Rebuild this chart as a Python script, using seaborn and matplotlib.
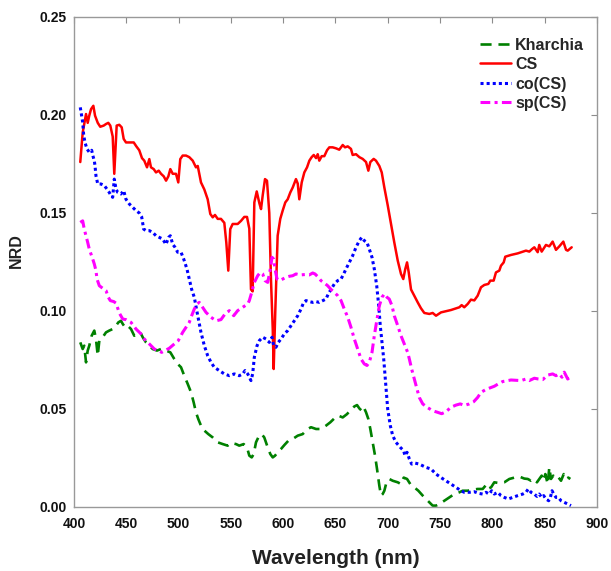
import numpy as np
import pandas as pd
import matplotlib
matplotlib.use("Agg")
import matplotlib.pyplot as plt
import seaborn as sns

# ---------------- data (wavelength nm, NRD) ----------------
kharchia = np.array([
    [406.0, .084], [408.3, .0806], [409.8, .0823], [411.5, .0738], [413.1, .0798], [414.6, .0823],
    [416.9, .0874], [419.4, .090], [421.0, .0857], [422.7, .0772], [424.2, .0849], [427.4, .0866],
    [430.6, .0891], [433.7, .090], [437.0, .0908], [440.2, .0925], [442.4, .0942], [444.9, .095],
    [446.6, .0934], [448.8, .0917], [451.3, .0925], [454.5, .0908], [457.6, .0874], [460.2, .0883],
    [463.4, .0891], [465.7, .0866], [468.8, .084], [472.0, .0823], [475.2, .0806], [479.3, .0798],
    [483.2, .0806], [488.0, .0798], [492.1, .0789], [495.9, .0755], [499.1, .073], [502.3, .0713],
    [505.4, .067], [508.7, .0628], [511.9, .0585], [514.4, .0534], [516.6, .0483], [518.8, .0449],
    [521.4, .0415], [524.6, .039], [528.4, .0372], [532.6, .0355], [537.4, .033], [542.2, .0321],
    [546.9, .0313], [550.1, .0327], [554.9, .0321], [558.0, .0313], [562.2, .0321], [565.4, .0304],
    [567.6, .0262], [569.9, .0253], [571.8, .027], [574.0, .033], [576.2, .0355], [579.4, .0372],
    [581.9, .0355], [585.2, .0304], [587.7, .027], [590.0, .0253], [592.2, .0262], [594.7, .0279],
    [597.9, .0296], [601.1, .0316], [604.9, .0338], [609.1, .0347], [613.9, .0364], [618.6, .0372],
    [623.4, .0398], [626.6, .0407], [631.4, .0398], [636.1, .0398], [640.9, .0415], [645.0, .0432],
    [648.9, .0452], [652.7, .0466], [656.9, .0457], [661.0, .0474], [664.8, .0496], [668.0, .0513],
    [670.6, .052], [672.8, .0503], [675.1, .0491], [677.0, .0509], [679.2, .0483], [681.4, .0449],
    [683.3, .0398], [685.6, .033], [687.8, .0262], [689.7, .0194], [691.9, .0109], [693.5, .0058],
    [695.1, .0066], [696.7, .0083], [698.3, .0117], [701.4, .0143], [704.7, .0134], [709.5, .0126],
    [712.6, .0117], [715.2, .015], [718.4, .0143], [721.5, .0117], [725.3, .010], [729.2, .0083],
    [733.4, .0058], [736.5, .0041], [739.7, .0024], [742.9, .0007], [746.1, .0007], [749.3, .0015],
    [754.1, .0032], [758.8, .0049], [763.6, .0066], [768.4, .0075], [771.6, .0083], [776.4, .0083],
    [781.2, .0088], [785.9, .0092], [790.7, .0092], [793.9, .0112], [795.5, .0092], [798.7, .010],
    [801.8, .0126], [806.6, .0122], [811.4, .0126], [816.2, .0143], [821.0, .015], [825.8, .0155],
    [830.5, .0145], [833.8, .0143], [836.9, .0134], [840.1, .0143], [842.6, .0126], [844.8, .0143],
    [847.1, .016], [849.0, .0134], [850.6, .0168], [852.9, .0117], [854.4, .0202], [856.0, .0143],
    [858.2, .016], [860.8, .0143], [863.3, .015], [865.6, .0134], [868.2, .0168], [870.4, .0143],
    [872.6, .015], [874.5, .0143]])

cs = np.array([
    [406.0, .176], [408.3, .191], [411.5, .2005], [413.1, .196], [414.6, .1997], [416.3, .203],
    [418.5, .2047], [420.1, .1997], [422.7, .196], [425.1, .194], [428.4, .1946], [430.6, .1954],
    [432.8, .196], [434.7, .1946], [437.0, .189], [438.5, .170], [440.8, .1946], [443.3, .195],
    [445.6, .1937], [447.5, .1878], [449.7, .186], [454.5, .186], [457.1, .186], [459.6, .184],
    [462.4, .182], [465.0, .178], [467.2, .1767], [469.8, .1733], [472.0, .1775], [473.6, .1733],
    [476.2, .1724], [478.4, .1707], [481.0, .1716], [483.2, .170], [485.8, .1687], [488.0, .1665],
    [490.2, .1687], [492.1, .1724], [494.4, .170], [497.5, .170], [499.7, .1656], [501.6, .1775],
    [503.9, .1793], [507.1, .1793], [510.2, .1785], [513.5, .1767], [516.6, .1733], [518.3, .174],
    [521.4, .1656], [524.6, .162], [527.8, .157], [530.3, .1495], [532.6, .1478], [534.8, .149],
    [537.4, .147], [540.5, .147], [543.7, .145], [545.6, .135], [547.5, .1206], [549.4, .1418],
    [551.7, .1444], [556.5, .1444], [559.7, .146], [562.8, .148], [565.4, .148], [567.6, .142],
    [569.2, .111], [570.8, .110], [572.4, .1554], [574.7, .161], [577.2, .155], [578.8, .152],
    [580.4, .159], [582.6, .1673], [584.5, .1665], [586.7, .150], [588.3, .1163], [590.0, .0908],
    [590.9, .0704], [592.4, .0993], [594.7, .1384], [597.2, .147], [599.5, .1512], [602.0, .1554],
    [604.3, .157], [606.8, .1605], [609.1, .163], [612.2, .1673], [613.9, .165], [615.4, .157],
    [617.7, .1656], [620.2, .1707], [622.8, .1733], [625.0, .1767], [627.2, .1785], [629.2, .1796],
    [631.4, .178], [633.0, .180], [634.5, .1767], [636.8, .179], [639.3, .179], [641.9, .182],
    [644.1, .1835], [647.3, .1835], [650.5, .183], [653.6, .1823], [656.9, .1847], [659.1, .1835],
    [661.7, .184], [664.8, .1827], [666.4, .1796], [669.6, .180], [672.8, .1785], [676.0, .1776],
    [679.2, .176], [681.4, .1716], [683.3, .176], [686.5, .1776], [688.7, .1767], [691.9, .174],
    [694.2, .1707], [696.7, .163], [699.9, .154], [703.1, .1444], [706.2, .135], [709.5, .1257],
    [712.6, .1189], [714.8, .1163], [716.7, .1214], [718.4, .1248], [720.0, .1197], [722.2, .111],
    [725.3, .1078], [728.6, .1044], [731.7, .1014], [734.9, .099], [739.7, .0985], [742.9, .099],
    [746.1, .0976], [750.9, .0993], [760.4, .1005], [768.4, .1019], [770.6, .103], [773.1, .1019],
    [776.4, .1036], [779.5, .1058], [782.7, .1054], [785.9, .1078], [789.1, .1121], [792.3, .1133],
    [796.1, .1138], [798.0, .1155], [801.2, .1155], [803.4, .1197], [806.6, .1206], [808.2, .1231],
    [810.8, .1248], [812.3, .1277], [817.8, .1286], [824.2, .1294], [832.1, .1308], [835.3, .1303],
    [837.9, .1316], [840.1, .1325], [843.3, .130], [844.8, .1337], [847.1, .1303], [851.2, .1337],
    [854.4, .133], [857.6, .1354], [860.8, .1312], [864.0, .133], [867.8, .1354], [870.4, .1312],
    [872.0, .1308], [875.8, .1325]])

co_cs = np.array([
    [406.0, .2039], [408.3, .1963], [409.3, .1895], [410.5, .186], [412.4, .1827], [414.6, .181],
    [416.9, .182], [417.9, .1795], [419.4, .1767], [420.1, .174], [421.0, .169], [422.7, .1648],
    [425.8, .1648], [429.0, .164], [431.5, .1622], [433.7, .1605], [435.4, .1588], [437.0, .158],
    [438.5, .1673], [440.2, .1622], [441.8, .1605], [444.9, .1597], [447.5, .1614], [449.7, .157],
    [452.9, .1546], [456.1, .1529], [459.3, .1512], [462.4, .150], [464.7, .148], [466.6, .1418],
    [468.8, .141], [472.0, .141], [475.2, .1401], [478.4, .1384], [481.5, .1376], [484.8, .1367],
    [487.9, .134], [490.5, .1376], [492.1, .1384], [494.4, .134], [496.6, .1325], [499.1, .130],
    [502.3, .130], [504.9, .1265], [508.0, .1214], [510.2, .1163], [512.5, .111], [515.0, .107],
    [518.3, .0976], [521.4, .0891], [524.6, .0823], [527.8, .0772], [531.0, .0738], [534.1, .0713],
    [538.9, .0696], [543.7, .0679], [548.5, .067], [553.3, .0679], [558.0, .067], [561.3, .0679],
    [563.5, .0696], [566.1, .0679], [567.6, .0662], [569.2, .0645], [570.8, .0679], [572.4, .0764],
    [575.0, .0823], [577.2, .0849], [580.4, .0866], [583.6, .0857], [586.7, .084], [589.3, .0866],
    [590.9, .0823], [593.1, .0815], [595.3, .084], [597.9, .0857], [601.1, .0883], [604.3, .090],
    [607.5, .0925], [610.6, .095], [613.9, .0976], [617.0, .101], [619.6, .1044], [621.8, .1053],
    [625.0, .1048], [628.2, .1044], [631.4, .1048], [634.5, .1044], [637.8, .1053], [640.9, .1061],
    [643.1, .1087], [645.7, .111], [648.9, .1138], [652.1, .1155], [655.3, .1163], [657.8, .1189],
    [660.0, .1214], [663.2, .1248], [666.4, .1282], [669.6, .1325], [672.8, .1359], [675.1, .1376],
    [677.5, .1359], [680.1, .135], [682.3, .1316], [684.9, .1274], [687.1, .1214], [689.4, .1129],
    [691.3, .1028], [692.8, .0925], [694.5, .084], [696.1, .0755], [697.4, .067], [698.6, .0585],
    [699.9, .05], [702.4, .0415], [704.7, .0364], [707.8, .033], [712.0, .0304], [715.2, .0287],
    [716.4, .0262], [718.4, .0279], [720.6, .0245], [722.8, .0219], [726.0, .0224], [730.1, .0219],
    [733.4, .021], [736.5, .0202], [741.3, .0194], [746.1, .0168], [750.9, .015], [755.6, .0134],
    [760.4, .0117], [765.2, .010], [770.0, .0083], [773.1, .0075], [777.9, .0075], [782.7, .0078],
    [786.6, .007], [790.7, .0066], [793.9, .0075], [797.0, .0066], [799.3, .0083], [801.8, .0066],
    [805.1, .0075], [808.2, .0058], [811.4, .0049], [815.2, .0041], [819.4, .0049], [824.2, .0058],
    [829.0, .0066], [832.1, .0075], [834.3, .0092], [836.9, .0075], [840.1, .0066], [842.6, .0054],
    [844.8, .0066], [847.1, .0049], [849.0, .0058], [851.2, .0041], [853.8, .0032], [855.4, .0049],
    [857.0, .0083], [858.6, .0066], [860.8, .0049], [863.0, .0049], [865.6, .0032], [868.7, .0024],
    [872.0, .0015], [875.1, .0007]])

sp_cs = np.array([
    [406.0, .1452], [408.3, .146], [409.8, .1418], [411.5, .1384], [413.1, .135], [414.6, .1316],
    [416.3, .129], [417.9, .1265], [419.4, .124], [421.0, .1206], [422.0, .1163], [424.2, .1129],
    [427.4, .1116], [430.6, .1104], [432.8, .107], [434.7, .1053], [438.0, .1048], [440.2, .104],
    [443.3, .099], [446.6, .0959], [449.7, .0956], [454.5, .0942], [459.3, .0908], [464.1, .0883],
    [467.2, .0857], [472.0, .0832], [476.8, .0806], [480.6, .0798], [483.8, .0789], [487.0, .0798],
    [491.1, .081], [495.9, .0832], [499.7, .0849], [503.9, .0891], [507.1, .0917], [510.2, .0942],
    [512.5, .0976], [515.0, .101], [517.6, .1036], [519.8, .1044], [523.0, .1019], [526.2, .0993],
    [531.0, .0968], [535.8, .095], [540.5, .0956], [544.4, .0985], [548.5, .1002], [552.7, .0976],
    [556.5, .1002], [561.3, .1019], [566.1, .1036], [567.6, .1053], [569.9, .1095], [572.4, .1146],
    [575.6, .118], [578.1, .1197], [580.4, .1189], [582.6, .1155], [585.2, .1146], [587.7, .1214],
    [589.3, .1274], [590.9, .1265], [592.2, .1214], [594.1, .1163], [596.3, .1155], [599.5, .1163],
    [602.7, .1172], [605.8, .1177], [609.1, .118], [612.2, .1189], [616.3, .1184], [620.8, .1186],
    [624.9, .1184], [628.2, .1194], [630.4, .1189], [633.6, .1172], [636.1, .1155], [639.3, .1143],
    [642.5, .1129], [645.7, .111], [648.9, .1095], [652.1, .1078], [655.3, .1053], [658.4, .101],
    [661.7, .0968], [664.8, .0917], [668.0, .0857], [671.2, .0806], [674.4, .0755], [677.5, .073],
    [680.1, .0722], [682.3, .0738], [684.9, .0789], [687.1, .0874], [689.7, .0959], [691.9, .1027],
    [694.5, .107], [696.7, .1087], [699.2, .107], [701.4, .1061], [704.0, .1027], [706.2, .0976],
    [709.5, .0925], [712.6, .0874], [715.8, .0832], [719.0, .0789], [720.6, .0755], [722.8, .0704],
    [725.3, .0653], [727.9, .0602], [730.1, .0559], [733.4, .0526], [737.5, .0509], [742.9, .0491],
    [747.7, .0483], [751.5, .0476], [755.6, .0486], [760.4, .0509], [765.2, .052], [769.3, .0526],
    [773.1, .0518], [777.9, .0526], [782.1, .0537], [785.9, .0559], [789.1, .0585], [793.9, .060],
    [798.7, .061], [801.8, .0616], [805.6, .0628], [809.8, .064], [814.6, .0645], [817.8, .0648],
    [827.3, .0645], [832.1, .0653], [835.3, .0645], [840.1, .0657], [843.9, .0653], [848.1, .065],
    [852.9, .0673], [857.6, .0679], [860.8, .067], [864.0, .0679], [866.5, .0662], [868.7, .0688],
    [872.0, .0653], [875.8, .067]])

series_names = ["Kharchia", "CS", "co(CS)", "sp(CS)"]
series_data = [kharchia, cs, co_cs, sp_cs]
x_ticks = [400, 450, 500, 550, 600, 650, 700, 750, 800, 850, 900]
y_ticks = [0.00, 0.05, 0.10, 0.15, 0.20, 0.25]

# ---------------- style ----------------
sns.set_theme(style="white")
plt.rcParams["font.family"] = ["Liberation Sans", "DejaVu Sans"]
plt.rcParams["font.weight"] = "bold"
plt.rcParams["axes.labelweight"] = "bold"

colors = ["#008000", "#ff0000", "#0000ff", "#ff00ff"]
styles = [(0, (4.2, 2.6)), "-", (0, (1, 1.0)), (0, (3.2, 1.4, 1, 1.4))]
widths = [1.9, 1.8, 2.2, 2.2]

fig = plt.figure(figsize=(6.11, 5.71), dpi=100)
ax = fig.add_axes([74 / 611, 1 - 507 / 571, 523 / 611, 490 / 571])

for name, arr, c, ls, lw in zip(series_names, series_data, colors, styles, widths):
    df = pd.DataFrame({"Wavelength": arr[:, 0], "NRD": arr[:, 1]})
    sns.lineplot(data=df, x="Wavelength", y="NRD", ax=ax, color=c, linestyle=ls,
                 linewidth=lw, label=name, sort=False, estimator=None)

ax.set_xlim(400, 900)
ax.set_ylim(0, 0.25)
ax.set_xticks(x_ticks)
ax.set_yticks(y_ticks)
ax.set_yticklabels([f"{v:.2f}" for v in y_ticks])
ax.tick_params(direction="in", top=True, right=True, length=4, width=0.8,
               color="#8c8c8c", labelsize=10, labelcolor="#111111")
ax.tick_params(axis="x", pad=7)
ax.tick_params(axis="y", pad=5)
for sp in ax.spines.values():
    sp.set_color("#999999")
    sp.set_linewidth(1.0)

ax.set_xlabel("Wavelength (nm)", fontsize=15, fontweight="bold", color="#222222")
ax.set_ylabel("NRD", fontsize=11.5, fontweight="bold", color="#222222")
ax.xaxis.set_label_coords(0.5, -0.085)
ax.yaxis.set_label_coords(-0.096, 0.524)

leg = ax.legend(loc="upper left", bbox_to_anchor=((480 - 74) / 523, 0.958),
                frameon=False, fontsize=11.5, handlelength=1.95, handletextpad=0.25,
                labelspacing=0.28, borderpad=0, borderaxespad=0)
for t in leg.get_texts():
    t.set_fontweight("bold")

fig.savefig("out.png", dpi=100)
